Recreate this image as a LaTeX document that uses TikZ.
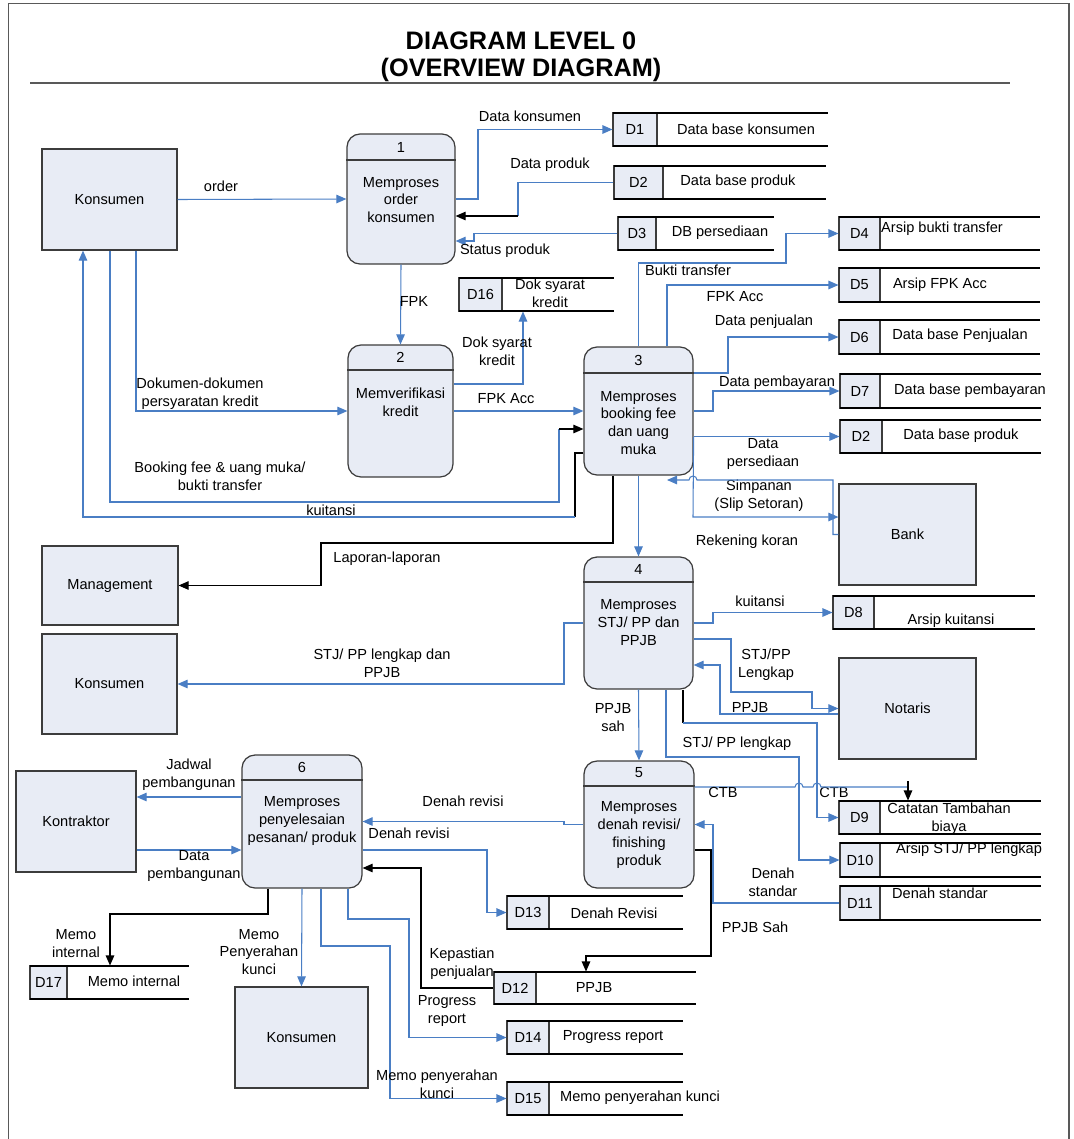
\documentclass[tikz,border=0pt]{standalone}
\usepackage{fontspec}
\setmainfont{Liberation Sans}
\usetikzlibrary{arrows.meta, fit}
\definecolor{cflow}{HTML}{4A7EC4}
\definecolor{cbox}{HTML}{E8ECF5}
\definecolor{cedge}{HTML}{3C3C3C}

\begin{document}
\begin{tikzpicture}[x=0.02cm, y=-0.02cm,
  font=\fontsize{8.3}{10.2}\selectfont,
  ext/.style={draw=cedge, fill=cbox, line width=0.7pt},
  proc/.style={draw=cedge, fill=cbox, line width=0.7pt, rounded corners=0.26cm},
  sid/.style={draw=cedge, fill=cbox, line width=0.6pt, inner sep=0pt},
  sline/.style={black, line width=1pt},
  txt/.style={align=center, inner sep=0pt},
  lbl/.style={align=center, inner sep=0pt},
  flow/.style={draw=cflow, line width=0.6pt, -{Triangle[length=0.2cm, width=0.17cm]}},
  bflow/.style={draw=black, line width=0.6pt, -{Triangle[length=0.2cm, width=0.17cm]}},
  wire/.style={draw=cflow, line width=0.6pt},
  bwire/.style={draw=black, line width=0.6pt}
]
\useasboundingbox (0,0) rectangle (1074,1139);

%% Frame and title
\draw[gray!70!black, line width=0.8pt] (8.6,1145) -- (8.6,3.5) -- (1069,3.5) -- (1069,1145);
\node[font=\fontsize{14.4}{15.3}\selectfont\bfseries, align=center] (title) at (521,56.5)
  {DIAGRAM LEVEL 0\\(OVERVIEW DIAGRAM)};
\draw[gray!70!black, line width=0.7pt] (30,83) -- (1010,83);

%% External entities
\node[ext, minimum width=2.7cm,  minimum height=2.02cm] (kons1)   at (109.5,199.5) {Konsumen};
\node[ext, minimum width=2.72cm, minimum height=1.58cm] (mgmt)    at (110,585.5)   {Management};
\node[ext, minimum width=2.7cm,  minimum height=2.0cm]  (kons2)   at (109.5,684)   {Konsumen};
\node[ext, minimum width=2.4cm,  minimum height=2.02cm] (kontr)   at (76,821.5)    {Kontraktor};
\node[ext, minimum width=2.66cm, minimum height=2.02cm] (kons3)   at (301.5,1037.5){Konsumen};
\node[ext, minimum width=2.74cm, minimum height=2.02cm] (bank)    at (907.5,534.5) {Bank};
\node[ext, minimum width=2.74cm, minimum height=2.02cm] (notaris) at (907.5,708.5) {Notaris};

%% Processes
\node[proc, minimum width=2.16cm, minimum height=2.6cm]  (p1) at (401,199)   {};
\node[proc, minimum width=2.1cm,  minimum height=2.64cm] (p2) at (400.5,411) {};
\node[proc, minimum width=2.18cm, minimum height=2.56cm] (p3) at (638.5,411) {};
\node[proc, minimum width=2.18cm, minimum height=2.64cm] (p4) at (638.5,623) {};
\node[proc, minimum width=2.2cm,  minimum height=2.54cm] (p5) at (639,824.5) {};
\node[proc, minimum width=2.4cm,  minimum height=2.66cm] (p6) at (302,821.5) {};
\draw[cedge, line width=0.7pt] (p1.west |- 0,160) -- (p1.east |- 0,160);
\draw[cedge, line width=0.7pt] (p2.west |- 0,370) -- (p2.east |- 0,370);
\draw[cedge, line width=0.7pt] (p3.west |- 0,373) -- (p3.east |- 0,373);
\draw[cedge, line width=0.7pt] (p4.west |- 0,582) -- (p4.east |- 0,582);
\draw[cedge, line width=0.7pt] (p5.west |- 0,786) -- (p5.east |- 0,786);
\draw[cedge, line width=0.7pt] (p6.west |- 0,780) -- (p6.east |- 0,780);
\node[txt] (p1n) at (401,147)   {1};
\node[txt] (p2n) at (400.5,357) {2};
\node[txt] (p3n) at (638.5,360) {3};
\node[txt] (p4n) at (638.5,569) {4};
\node[txt] (p5n) at (639,773)   {5};
\node[txt] (p6n) at (302,767)   {6};
\node[txt] (p1t) at (401,200)     {Memproses\\order\\konsumen};
\node[txt] (p2t) at (400.5,402)   {Memverifikasi\\kredit};
\node[txt] (p3t) at (638.5,423)   {Memproses\\booking fee\\dan uang\\muka};
\node[txt] (p4t) at (638.5,622.5) {Memproses\\STJ/ PP dan\\PPJB};
\node[txt] (p5t) at (639,835)     {Memproses\\denah revisi/\\finishing\\produk};
\node[txt] (p6t) at (302,821)     {Memproses\\penyelesaian\\pesanan/ produk};

%% Data stores
\foreach \nm/\xl/\xd/\xr/\yt/\yb/\id in {
    d1/613/657/828/113/146/D1, d2a/614/663/826/166/199/D2,
    d3/618/656/774/217/250/D3, d16/459/502/614/278/311/D16,
    d4/839/880/1040/217/250/D4, d5/839/880/1040/268/302/D5,
    d6/839/880/1040/320/354/D6, d7/840/880/1041/374/408/D7,
    d2b/840/882/1041/420/453/D2, d8/833/874/1035/596/629/D8,
    d9/839/880/1041/801/834/D9, d10/840/880/1041/843/877/D10,
    d11/840/880/1041/886/920/D11, d12/494/536/696/972/1004/D12,
    d13/507/549/683/896/929/D13, d14/507/549/683/1021/1054/D14,
    d15/507/549/683/1082/1115/D15, d17/30/67/189/966/999/D17} {
  \node[sid, fit={(\xl,\yt) (\xd,\yb)}] (\nm) {};
  \node[txt] (\nm id) at (\nm.center) {\id};
  \draw[sline] (\xl,\yt) -- (\xr,\yt) (\xl,\yb) -- (\xr,\yb);
}
\node[txt] (d1t)  at (746,129)   {Data base konsumen};
\node[txt] (d2at) at (738,182)   {Data base produk};
\node[txt] (d3t)  at (720,233)   {DB persediaan};
\node[txt] (d16t) at (550,293.5) {Dok syarat\\kredit};
\node[txt] (d4t)  at (942,229)   {Arsip bukti transfer};
\node[txt] (d5t)  at (940,285)   {Arsip FPK Acc};
\node[txt] (d6t)  at (960,336)   {Data base Penjualan};
\node[txt] (d7t)  at (970,391)   {Data base pembayaran};
\node[txt] (d2bt) at (961,436)   {Data base produk};
\node[txt] (d8t)  at (951,621)   {Arsip kuitansi};
\node[txt] (d9t)  at (949,819)   {Catatan Tambahan\\biaya};
\node[txt] (d10t) at (969,850)   {Arsip STJ/ PP lengkap};
\node[txt] (d11t) at (940,893)   {Denah standar};
\node[txt] (d12t) at (594,988)   {PPJB};
\node[txt] (d13t) at (614,913)   {Denah Revisi};
\node[txt] (d14t) at (613,1037)  {Progress report};
\node[txt] (d15t) at (640,1098)  {Memo penyerahan kunci};
\node[txt] (d17t) at (134,981)   {Memo internal};

%% Process 1
\draw[flow] (kons1.east) -- (p1.west) node[lbl] (lorder) at (221,186) {order};
\draw[flow] (p1.east) -- (478,199) |- (d1.west) node[lbl] (ldkon) at (530,116) {Data konsumen};
\coordinate (cprod) at (518,216);
\draw[wire] (d2a.west) -| (cprod) node[lbl] (ldprod) at (550,165) {Data produk};
\draw[bflow] (cprod) -- (p1.east |- cprod);
\draw[flow] (d3.west) -| (474,241) -- (p1.east |- 0,241) node[lbl] (lstat) at (505,251) {Status produk};
\draw[flow] (p1.south) -- (p2.north) node[lbl] (lfpk) at (414,301) {FPK};

%% Process 2
\draw[flow] (kons1.south -| 136,0) |- (p2.west)
  node[lbl] (ldok) at (200,394) {Dokumen-dokumen\\persyaratan kredit};
\draw[flow] (p2.east |- 0,384) -| (d16.south -| 523,0) node[lbl] (lsyarat) at (497,351) {Dok syarat\\kredit};
\draw[flow] (p2.east) -- (p3.west) node[lbl] (lfpkacc) at (506,399) {FPK Acc};

%% Konsumen <-> process 3
\coordinate (cbook) at (559,429);
\draw[wire] (kons1.south -| 110,0) |- (559,502) -- (cbook)
  node[lbl] (lbook) at (220,476) {Booking fee \& uang muka/\\bukti transfer};
\draw[bflow] (cbook) -- (p3.west |- cbook);
\coordinate (ckuit) at (575,517);
\draw[bwire] (p3.west |- 0,453) -| (ckuit);
\draw[flow] (ckuit) -| (kons1.south -| 83,0) node[lbl] (lkuit) at (331,510) {kuitansi};
\draw[bflow] (p3.south -| 613,0) |- (321,543) |- (mgmt.east) node[lbl] (llap) at (387,559) {Laporan-laporan};

%% Process 3 to stores
\draw[flow] (p3.north) |- (786,263) |- (d4.west) node[lbl] (lbukti) at (688,270) {Bukti transfer};
\draw[flow] (p3.north -| 667,0) |- (d5.west) node[lbl] (lfpk2) at (735,297) {FPK Acc};
\draw[flow] (p3.east |- 0,373) -- (728,373) |- (d6.west) node[lbl] (ljual) at (764,322) {Data penjualan};
\draw[flow] (p3.east) -- (713,411) |- (d7.west) node[lbl] (lbayar) at (777,383) {Data pembayaran};
\draw[flow] (p3.east |- d2b.west) -- (d2b.west) node[lbl] (lsedia) at (763,454) {Data\\persediaan};

%% Bank
\draw[flow] (p3.east |- 0,437) -- (693,517) -- (bank.west |- 0,517)
  node[lbl] (lsimp) at (759,496) {Simpanan\\(Slip Setoran)};
\coordinate (crek) at (667,480);
\draw[flow] (bank.west) -- (833,534.5) |- (697,480) arc[start angle=0, end angle=180, radius=0.08cm] -- (crek)
  node[lbl] (lrek) at (747,542) {Rekening koran};

%% Process 4
\draw[flow] (p3.south) -- (p4.north);
\draw[flow] (p4.west) -- (564,623) |- (kons2.east) node[lbl] (lstj) at (382,663) {STJ/ PP lengkap dan\\PPJB};
\draw[flow] (p4.east) -- (713,623) |- (d8.west) node[lbl] (lkuit2) at (760,601) {kuitansi};
\draw[flow] (p4.east |- 0,639) -- (731,639) |- (812,692) |- (notaris.west) node[lbl] (lstjn) at (766,665) {STJ/PP\\Lengkap};
\draw[flow] (notaris.west |- 0,714) -- (720,714) |- (p4.east |- 0,665) node[lbl] (lppjb) at (750,708) {PPJB};
\draw[flow] (p4.south) -- (p5.north) node[lbl] (lsah) at (613,718) {PPJB\\sah};
\draw[flow] (p4.south -| 666,0) |- (799,757) |- (d10.west) node[lbl] (lstjd) at (737,744) {STJ/ PP lengkap};
\coordinate (cctb) at (683,723);
\draw[bwire] (p4.south -| 683,0) -- (cctb);
\draw[flow] (cctb) -- (817,723) |- (d9.west) node[lbl] (lctb2) at (834,792) {CTB};

%% Process 5
\draw[wire] (p5.east |- 0,787) -- (795,787) arc[start angle=180, end angle=0, radius=0.08cm]
  -- (813,787) arc[start angle=180, end angle=0, radius=0.08cm] -- (908,787)
  node[lbl] (lctb1) at (723,792) {CTB};
\coordinate (cctb2) at (908,781);
\draw[bflow] (cctb2) -- (d9.north -| cctb2);
\draw[flow] (d11.west) -- (713,903) |- (p5.east) node[lbl] (lstd) at (773,882) {Denah\\standar};
\draw[bflow] (p5.east |- 0,850) -- (711,850) |- (586,956) -- (d12.north -| 586,0)
  node[lbl] (lsah2) at (755,927) {PPJB Sah};
\draw[flow] (p5.west) -| (564,821.5) -- (p6.east) node[lbl] (lrev1) at (463,801) {Denah revisi};

%% Process 6
\draw[flow] (p6.east |- 0,850) -- (487,850) |- (d13.west) node[lbl] (lrev2) at (409,833) {Denah revisi};
\draw[bflow] (d12.west) -- (421,988) |- (p6.east |- 0,868) node[lbl] (lpasti) at (462,964) {Kepastian\\penjualan};
\draw[flow] (p6.south -| 348,0) |- (409,919) |- (d14.west) node[lbl] (lprog) at (447,1011) {Progress\\report};
\draw[flow] (p6.south -| 321,0) |- (390,946) |- (d15.west) node[lbl] (lmemo) at (437,1084) {Memo penyerahan\\kunci};
\draw[flow] (p6.south) -- (kons3.north) node[lbl] (lkunci) at (259,952) {Memo\\Penyerahan\\kunci};
\draw[bflow] (p6.south -| 268,0) |- (110,914) -- (d17.north -| 110,0) node[lbl] (lint) at (76,944) {Memo\\internal};
\draw[flow] (p6.west |- 0,797) -- (kontr.east |- 0,797) node[lbl] (ljadwal) at (189,775) {Jadwal\\pembangunan};
\draw[flow] (kontr.east |- 0,850) -- (p6.west |- 0,850) node[lbl] (lbangun) at (194,866) {Data\\pembangunan};

\end{tikzpicture}
\end{document}
